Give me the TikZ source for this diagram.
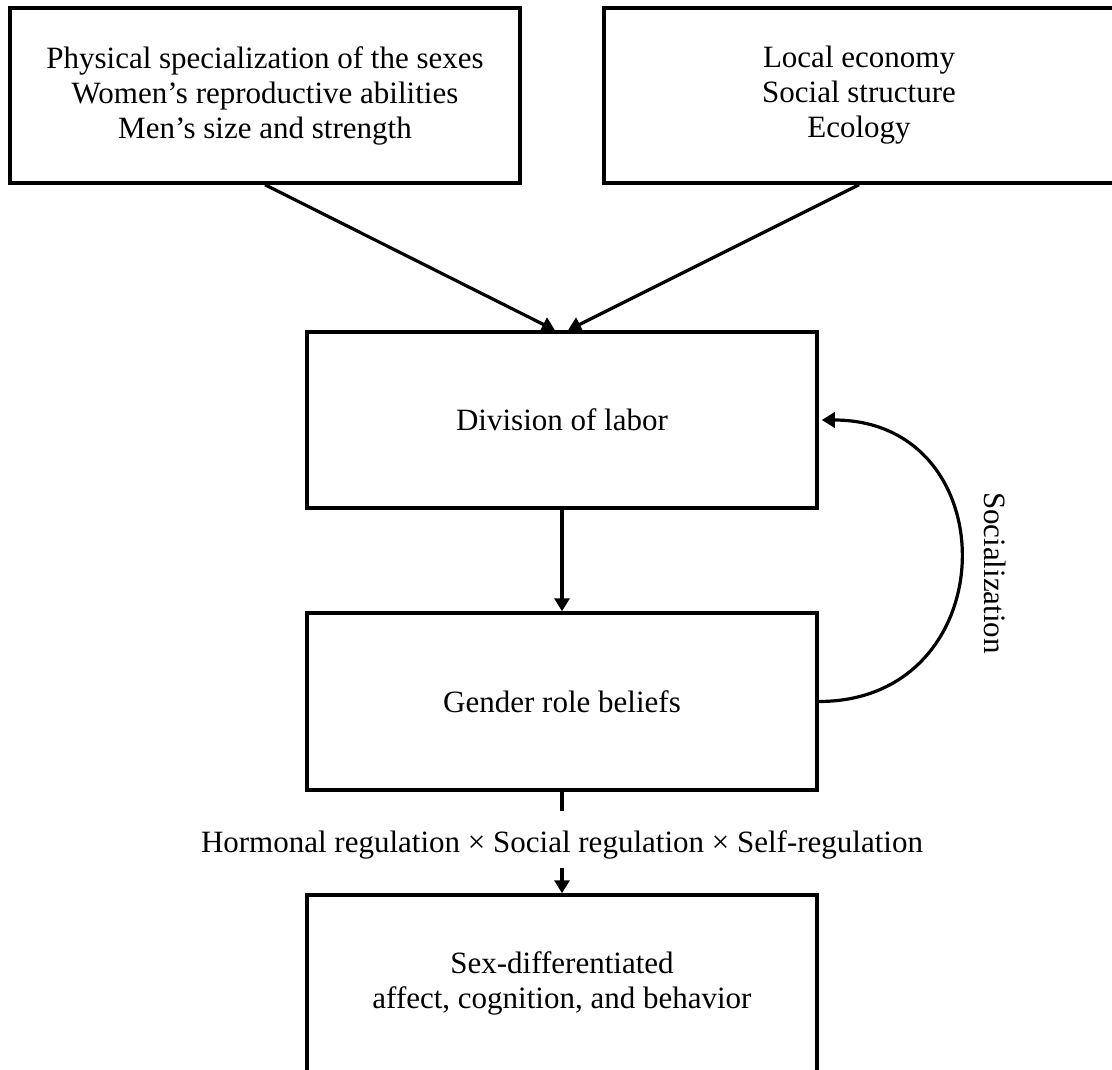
\documentclass[tikz,border=0pt]{standalone}
\usepackage{fontspec}
\setmainfont{Liberation Serif}
\usetikzlibrary{arrows.meta,positioning}
\tikzstyle{box}=[draw, line width=3.5pt, minimum width=510pt, minimum height=176pt, align=center, inner sep=0pt, font=\fontsize{31}{35}\selectfont]
\tikzstyle{note}=[inner sep=0pt, font=\fontsize{31}{35}\selectfont]
\tikzset{flow/.style={-{Triangle[length=13pt,width=15pt]}, line width=3.2pt}}
\tikzset{plain/.style={line width=3.2pt}}
\tikzset{y=-1pt}
\tikzset{x=1pt}

\begin{document}
\begin{tikzpicture}
  \useasboundingbox (0,0) rectangle (1112,1070);
  %% Causes
  \draw (265,95.5) node[box,minimum height=175pt] (phys) {Physical specialization of the sexes\\Women’s reproductive abilities\\Men’s size and strength};
  \draw (859,95.5) node[box,minimum height=175pt] (econ) {Local economy\\Social structure\\Ecology};

  %% Chain
  \draw (562,420) node[box] (labor) {Division of labor};
  \draw (562,701.5) node[box,minimum height=177pt] (beliefs) {Gender role beliefs};
  \draw (562,983.5) node[box,minimum height=177pt] (outcome) {Sex-differentiated\\affect, cognition, and behavior};
  \draw (562,852) node[note,anchor=base] (reg) {Hormonal regulation × Social regulation × Self-regulation};

  \draw[flow] (phys.south) -- ([xshift=-7pt]labor.north);
  \draw[flow] (econ.south) -- ([xshift=6pt]labor.north);
  \draw[flow] (labor) -- (beliefs);
  \draw[plain] (beliefs.south) -- ([yshift=19pt]reg.north);
  \draw[flow] ([yshift=-9pt]reg.south) -- (outcome.north);

  %% Feedback
  \draw[flow] (beliefs.east) to[out=0,in=0,looseness=1.7] ([xshift=3pt]labor.east);
  \draw (995,573) node[note,rotate=-90] (soc) {Socialization};
\end{tikzpicture}
\end{document}
